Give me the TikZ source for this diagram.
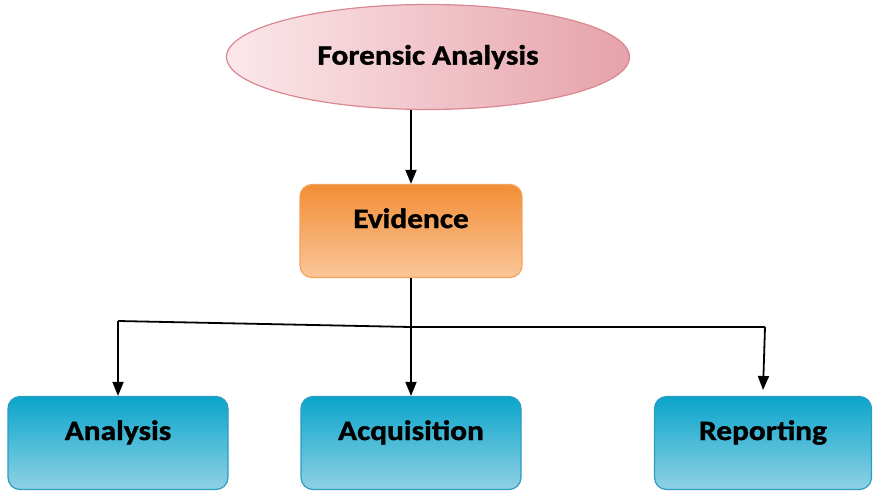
\documentclass[tikz,border=0pt]{standalone}
\usepackage{fontspec}
\setmainfont{Carlito}[FakeStretch=1.12, BoldFeatures={FakeBold=1.3}]
\usetikzlibrary{shapes.geometric,arrows.meta}
\definecolor{pinkL}{HTML}{FBE8EB}
\definecolor{pinkD}{HTML}{E6A2AA}
\definecolor{pinkB}{HTML}{D98890}
\definecolor{orgT}{HTML}{F28E35}
\definecolor{orgB}{HTML}{FAC69A}
\definecolor{orgE}{HTML}{F5A25A}
\definecolor{bluT}{HTML}{0AA5CB}
\definecolor{bluB}{HTML}{8FD1E4}
\definecolor{bluE}{HTML}{2E9CBF}
\tikzset{
  lbl/.style={font=\fontsize{28}{30}\selectfont\bfseries, text=black},
  oval/.style={ellipse, lbl, draw=pinkB, line width=1.2pt, left color=pinkL, right color=pinkD,
    minimum width=403pt, minimum height=105pt, inner sep=0pt},
  hub/.style={rectangle, rounded corners=12pt, lbl, draw=orgE, line width=1.2pt,
    top color=orgT, bottom color=orgB, minimum width=222pt, minimum height=93pt,
    inner sep=0pt, text height=12pt, text depth=18pt},
  leaf/.style={rectangle, rounded corners=12pt, lbl, draw=bluE, line width=1.2pt,
    top color=bluT, bottom color=bluB, minimum width=220pt, minimum height=93pt,
    inner sep=0pt, text height=12pt, text depth=18pt},
  wire/.style={line width=1.8pt, black},
  arr/.style={wire, -{Triangle[width=11pt,length=14pt]}}
}
\begin{document}
\begin{tikzpicture}[x=1pt,y=-1pt]
  \useasboundingbox (0,0) rectangle (875,493);
  \node[oval] (fa) at (428,57) {Forensic Analysis};
  \node[hub] (ev) at (411,231) {Evidence};
  \node[leaf] (an) at (118,443) {Analysis};
  \node[leaf] (aq) at (411,443) {Acquisition};
  \node[leaf, minimum width=217pt] (rp) at (763,443) {Reporting};
  % branch points of the distribution line
  \coordinate (jl) at (118,321);
  \coordinate (jm) at (411,327);
  \coordinate (jr) at (765,327);
  \coordinate (rt) at (763,390);
  \draw[arr] (fa.south -| ev.north) -- (ev.north);
  \draw[arr] (ev.south) -- (aq.north);
  \draw[wire] (jl) -- (jm) -- (jr);
  \draw[arr] (jl) -- (an.north);
  \draw[arr] (jr) -- (rt);
\end{tikzpicture}
\end{document}
